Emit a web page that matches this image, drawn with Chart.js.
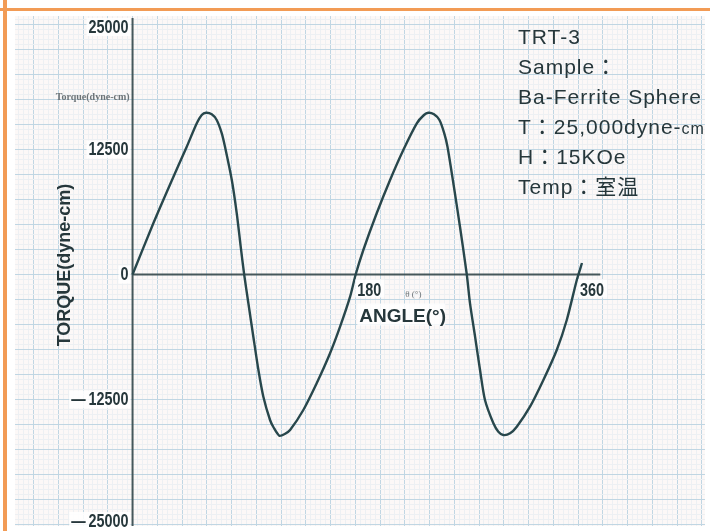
<!DOCTYPE html>
<html>
<head>
<meta charset="utf-8">
<script src="https://cdn.jsdelivr.net/npm/chart.js@4/dist/chart.umd.min.js"></script>
<style>
  html, body { margin: 0; padding: 0; background: #fff; }
  #wrap { width: 710px; height: 531px; }
</style>
</head>
<body>
<div id="wrap"><canvas id="torque" width="710" height="531"></canvas></div>
<script>
// torque curve (angle in degrees, torque in dyne-cm)
const angleDeg = [0, 16.8, 30.3, 43.8, 51.9, 55.9, 59.4, 64.0, 68.0, 72.1, 74.7, 80.2, 84.2, 87.4, 90.2,
  93.6, 97.6, 101.7, 105.7, 111.1, 114.0, 118.6, 123.0, 127.3, 138.0, 148.8, 159.6, 167.7, 175.8, 180.3,
  186.5, 197.3, 208.1, 218.8, 229.7, 235.5, 239.0, 243.6, 248.0, 251.9, 254.5, 259.4, 264.6, 270.1,
  272.7, 276.8, 280.8, 284.8, 291.6, 295.6, 299.6, 305.1, 310.5, 321.2, 332.0, 342.8, 350.9, 359.0, 363.2];
const torque = [0, 5120, 9000, 12780, 15120, 15950, 16180, 16020, 15450, 14120, 12780, 9450, 6120, 2780, 0,
  -2880, -6220, -9550, -12220, -14550, -15300, -16120, -15950, -15550, -13550, -10880, -7880, -5220, -2220, 0,
  2450, 6120, 9450, 12450, 15120, 15950, 16180, 16020, 15450, 14120, 12780, 9000, 4780, 0,
  -2880, -6220, -9550, -12550, -14880, -15720, -16050, -15880, -15220, -13220, -10550, -7550, -4550, -550, 1150];

// axis ticks printed on the chart
const yTickValues = [25000, 12500, 0, -12500, -25000];
const yTickLabels = ['25000', '12500', '0', '\u2014\u200912500', '\u2014\u200925000'];
const xTickValues = [180, 360];
const xTickLabels = ['180', '360'];

// extents of the drawn axis lines (data units)
const xAxisLine = [0, 378];
const yAxisLine = [-25150, 25650];

// paper range (data units) and grid steps
const xRange = [-95, 462.6];
const yRange = [-25150, 25850];
const xMinor = 4, xMajor = 20;
const yMinor = 500, yMajor = 2500;

// info block
const infoLines = ['TRT-3', 'Sample\uFF1A', 'Ba-Ferrite Sphere', 'T\uFF1A25,000dyne-', 'H\uFF1A15KOe', 'Temp\uFF1A\u5BA4\u6E29'];

const INK = '#26373b';
const SANS = '"Liberation Sans", "Noto Sans CJK JP", sans-serif';

function gridTicks(lo, hi, step) {
  const out = [];
  for (let v = Math.ceil(lo / step) * step; v <= hi; v += step) out.push({ value: v });
  return out;
}

// condensed bold digits like the printed scale
function narrowText(ctx, text, x, y) {
  ctx.save();
  ctx.translate(x, y);
  ctx.scale(0.8, 1);
  ctx.fillText(text, 0, 0);
  ctx.restore();
}

const paperPlugin = {
  id: 'paper',
  beforeDraw(chart) {
    const { ctx, chartArea: a } = chart;
    ctx.save();
    ctx.fillStyle = '#ffffff';
    ctx.fillRect(0, 0, chart.width, chart.height);
    ctx.fillStyle = '#f29b55';
    ctx.fillRect(0, 8, chart.width, 3);
    ctx.fillRect(3, 0, 4, chart.height);
    ctx.fillStyle = '#fcf8f7';
    ctx.fillRect(a.left, a.top, a.width, a.height);
    ctx.restore();
  }
};

const labelPlugin = {
  id: 'labels',
  afterDatasetsDraw(chart) {
    const { ctx, chartArea: a } = chart;
    const xs = chart.scales.x, ys = chart.scales.y;
    const x0 = xs.getPixelForValue(0), y0 = ys.getPixelForValue(0);
    ctx.save();

    // y tick labels on little white patches
    ctx.font = 'bold 18px "Liberation Sans", sans-serif';
    ctx.textAlign = 'right';
    ctx.textBaseline = 'middle';
    yTickValues.forEach((v, i) => {
      let py = ys.getPixelForValue(v);
      py = Math.max(a.top + 11, Math.min(a.bottom - 5, py));
      const w = ctx.measureText(yTickLabels[i]).width * 0.8;
      ctx.fillStyle = 'rgba(255,255,255,0.85)';
      ctx.fillRect(x0 - 6 - w, py - 9, w + 4, 18);
      ctx.fillStyle = INK;
      narrowText(ctx, yTickLabels[i], x0 - 4, py + 1);
    });

    // x tick labels
    ctx.textAlign = 'left';
    ctx.textBaseline = 'alphabetic';
    xTickValues.forEach((v, i) => {
      const px = xs.getPixelForValue(v);
      const w = ctx.measureText(xTickLabels[i]).width * 0.8;
      ctx.fillStyle = 'rgba(255,255,255,0.85)';
      ctx.fillRect(px, y0 + 5, w + 5, 18);
      ctx.fillStyle = INK;
      narrowText(ctx, xTickLabels[i], px + 2, y0 + 21);
    });

    // axis titles
    const p180 = xs.getPixelForValue(180);
    ctx.fillStyle = 'rgba(255,255,255,0.8)';
    ctx.fillRect(p180 + 2, y0 + 29, 88, 22);
    ctx.fillStyle = INK;
    ctx.font = 'bold 19px "Liberation Sans", sans-serif';
    ctx.fillText('ANGLE(\u00B0)', p180 + 4, y0 + 47);
    ctx.fillStyle = '#6c7478';
    ctx.font = '9px "Liberation Serif", serif';
    ctx.fillText('\u03B8 (\u00B0)', p180 + 50, y0 + 22);

    ctx.save();
    ctx.translate(70, 265);
    ctx.rotate(-Math.PI / 2);
    ctx.textAlign = 'center';
    ctx.fillStyle = INK;
    ctx.font = 'bold 18px "Liberation Sans", sans-serif';
    ctx.fillText('TORQUE(dyne-cm)', 0, 0);
    ctx.restore();

    ctx.fillStyle = '#6c7478';
    ctx.font = 'bold 10px "Liberation Serif", serif';
    ctx.textAlign = 'right';
    ctx.fillText('Torque(dyne-cm)', x0 - 3, 100);

    // info block
    ctx.textAlign = 'left';
    ctx.fillStyle = INK;
    ctx.font = '21px ' + SANS;
    ctx.letterSpacing = '1px';
    infoLines.forEach((t, i) => {
      const by = 44 + i * 30;
      ctx.fillText(t, 518, by);
      if (i === 3) {
        const w = ctx.measureText(t).width;
        ctx.font = '16px ' + SANS;
        ctx.fillText('cm', 518 + w, by);
        ctx.font = '21px ' + SANS;
      }
    });
    ctx.restore();
  }
};

new Chart(document.getElementById('torque'), {
  type: 'line',
  data: {
    datasets: [
      {
        data: angleDeg.map((a, i) => ({ x: a, y: torque[i] })),
        borderColor: '#28474c',
        borderWidth: 2.4,
        pointRadius: 0,
        fill: false,
        tension: 0.25
      },
      {
        data: xAxisLine.map(a => ({ x: a, y: 0 })),
        borderColor: '#45575b',
        borderWidth: 2,
        pointRadius: 0
      },
      {
        data: yAxisLine.map(v => ({ x: 0, y: v })),
        borderColor: '#45575b',
        borderWidth: 2,
        pointRadius: 0
      }
    ]
  },
  options: {
    responsive: false,
    animation: false,
    events: [],
    layout: { padding: { left: 15, top: 16, right: 5, bottom: 5 } },
    plugins: { legend: { display: false }, tooltip: { enabled: false } },
    scales: {
      x: {
        type: 'linear',
        min: xRange[0], max: xRange[1],
        afterBuildTicks: s => { s.ticks = gridTicks(xRange[0], xRange[1], xMinor); },
        ticks: { display: false },
        border: { display: false },
        grid: {
          drawTicks: false,
          color: c => (Math.round(c.tick.value) % xMajor === 0 ? '#c0d6e3' : '#edf0f3'),
          lineWidth: 1
        }
      },
      y: {
        type: 'linear',
        min: yRange[0], max: yRange[1],
        afterBuildTicks: s => { s.ticks = gridTicks(yRange[0], yRange[1], yMinor); },
        ticks: { display: false },
        border: { display: false },
        grid: {
          drawTicks: false,
          color: c => (Math.round(c.tick.value) % yMajor === 0 ? '#c0d6e3' : '#edf0f3'),
          lineWidth: 1
        }
      }
    }
  },
  plugins: [paperPlugin, labelPlugin]
});
</script>
</body>
</html>
